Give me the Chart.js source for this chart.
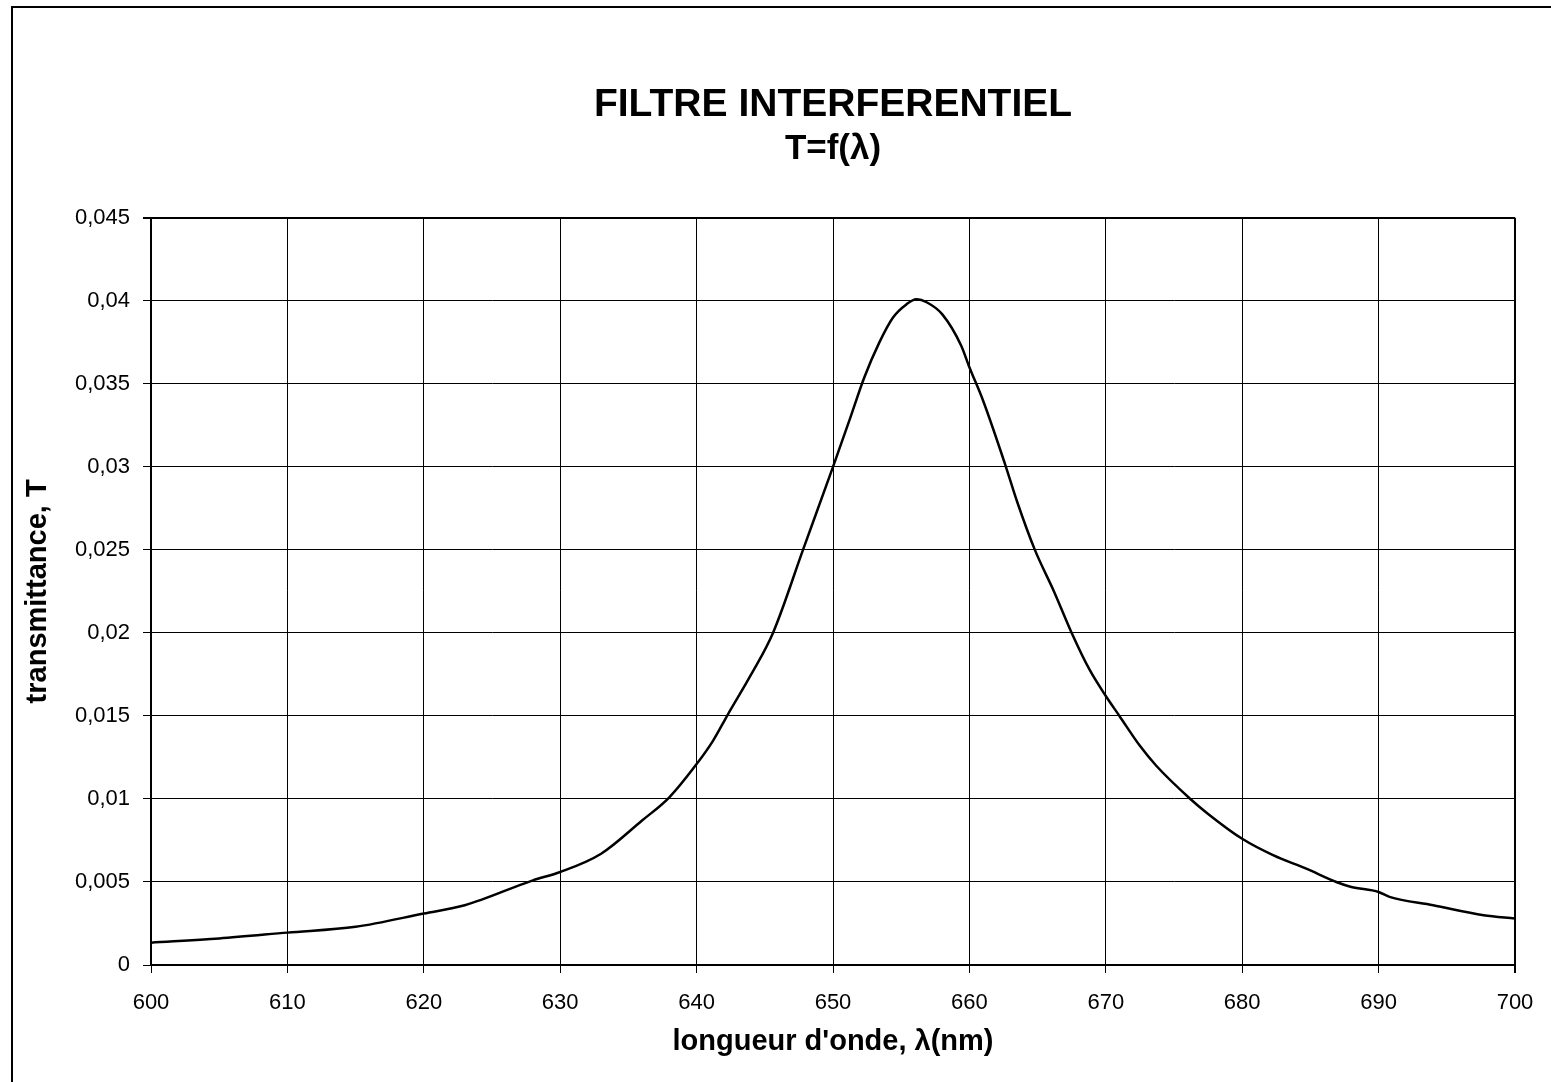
<!DOCTYPE html>
<html>
<head>
<meta charset="utf-8">
<title>Filtre interferentiel</title>
<script src="https://cdn.jsdelivr.net/npm/chart.js@4.4.1/dist/chart.umd.min.js"></script>
<style>
  html, body { margin: 0; padding: 0; background: #fff; overflow: hidden; }
  #frame { position: absolute; left: 11px; top: 6px; width: 1600px; height: 1100px;
           border-left: 2px solid #000; border-top: 2px solid #000; }
  #wrap { position: absolute; left: 0; top: 0; width: 1551px; height: 1082px; }
</style>
</head>
<body>
<div id="frame"></div>
<div id="wrap"><canvas id="chart"></canvas></div>
<script>
// longueur d'onde (nm) et transmittance
const lambdas = [600, 605, 610, 615, 620, 623, 628, 630, 633, 636, 638, 640, 641.2, 642.3, 644, 645.6,
  647.8, 650, 651.2, 652.3, 653.4, 654.4, 655.4, 656.1, 656.9, 658, 659.4, 660, 661, 662.6, 663.5,
  664.8, 666.2, 667.5, 668.8, 670, 671, 672.5, 673.7, 676.2, 677.5, 680, 682.3, 684.7, 686.9, 688,
  690, 690.8, 694, 697.7, 700];
const transmittance = [0.00134, 0.0016, 0.00195, 0.0023, 0.0031, 0.0036, 0.0051, 0.0056, 0.0067, 0.0087,
  0.0101, 0.0121, 0.0135, 0.0151, 0.0175, 0.02, 0.025, 0.03, 0.0328, 0.0354, 0.0375, 0.039, 0.0398,
  0.0401, 0.0399, 0.0392, 0.0373, 0.036, 0.034, 0.0302, 0.0279, 0.025, 0.0225, 0.02, 0.0178, 0.0162,
  0.015, 0.0132, 0.012, 0.01, 0.0091, 0.0076, 0.0066, 0.0058, 0.005, 0.0047, 0.0044, 0.0041,
  0.0036, 0.003, 0.0028];

const xMin = 600, xMax = 700, xStep = 10;
const yMin = 0, yMax = 0.045, yStep = 0.005;

const FONT = "'Liberation Sans', Arial, sans-serif";

const points = lambdas.map((l, i) => ({ x: l, y: transmittance[i] }));

Chart.defaults.color = '#000';
Chart.defaults.font.family = FONT;

new Chart(document.getElementById('chart'), {
  type: 'scatter',
  data: {
    datasets: [{
      label: 'T',
      data: points,
      showLine: true,
      borderColor: '#000',
      borderWidth: 2.5,
      pointRadius: 0,
      cubicInterpolationMode: 'monotone',
      fill: false
    }]
  },
  options: {
    responsive: true,
    maintainAspectRatio: false,
    animation: false,
    layout: { padding: { left: 0, right: 36, top: 0, bottom: 0 } },
    plugins: {
      legend: { display: false },
      tooltip: { enabled: false },
      title: {
        display: true,
        fullSize: false,
        text: 'FILTRE INTERFERENTIEL',
        color: '#000',
        font: { family: FONT, size: 39, weight: 'bold', lineHeight: 1.2 },
        padding: { top: 82, bottom: 0 }
      },
      subtitle: {
        display: true,
        fullSize: false,
        text: 'T=f(λ)',
        color: '#000',
        font: { family: FONT, size: 35, weight: 'bold', lineHeight: 1.2 },
        padding: { top: 0, bottom: 47 }
      }
    },
    scales: {
      x: {
        type: 'linear',
        min: xMin,
        max: xMax,
        afterFit: s => { s.height = 117; },
        ticks: { stepSize: xStep, padding: 17, color: '#000', font: { size: 22 } },
        grid: {
          color: '#000',
          lineWidth: c => (c.tick && c.tick.value === xMax ? 2 : 1),
          tickLength: 8,
          tickColor: '#000'
        },
        border: { color: '#000', width: 2 },
        title: {
          display: true,
          text: "longueur d'onde, λ(nm)",
          color: '#000',
          font: { size: 29, weight: 'bold', lineHeight: 1.2 },
          padding: { top: 0, bottom: 23 }
        }
      },
      y: {
        min: yMin,
        max: yMax,
        afterFit: s => { s.width = 151; },
        ticks: {
          stepSize: yStep,
          padding: 13,
          color: '#000',
          font: { size: 22 },
          callback: v => String(+v.toFixed(3)).replace('.', ',')
        },
        grid: {
          color: '#000',
          lineWidth: c => (c.tick && Math.abs(c.tick.value - yMax) < 1e-9 ? 2 : 1),
          tickLength: 8,
          tickColor: '#000'
        },
        border: { color: '#000', width: 2 },
        title: {
          display: true,
          text: 'transmittance, T',
          color: '#000',
          font: { size: 29, weight: 'bold', lineHeight: 1.2 },
          padding: { top: 21, bottom: 0 }
        }
      }
    }
  }
});
</script>
</body>
</html>
